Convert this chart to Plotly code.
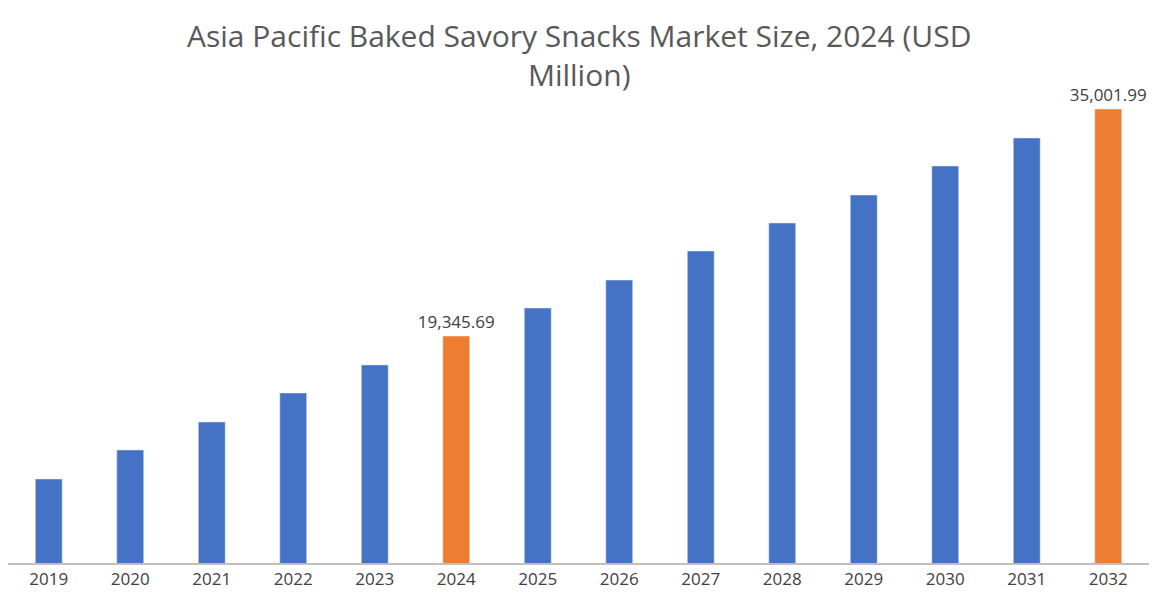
import plotly.graph_objects as go

years = ["2019", "2020", "2021", "2022", "2023", "2024", "2025",
         "2026", "2027", "2028", "2029", "2030", "2031", "2032"]
values = [9482, 11483, 13414, 15414, 17346, 19345.69, 21276,
          23207, 25208, 27139, 29070, 31070, 33001, 35001.99]
labels = ["", "", "", "", "", "19,345.69", "", "", "", "", "", "", "", "35,001.99"]

blue = "#4472C4"
orange = "#ED7D31"
colors = [orange if y in ("2024", "2032") else blue for y in years]

fig = go.Figure(go.Bar(
    x=years, y=values, marker_color=colors, width=0.33,
    text=labels, textposition="outside", cliponaxis=False,
    textfont=dict(size=17, color="#404040"),
))

fig.update_layout(
    width=1161, height=600,
    paper_bgcolor="white", plot_bgcolor="white",
    margin=dict(l=0, r=20, t=60, b=45),
    font=dict(family="Open Sans, Liberation Sans, sans-serif"),
    uniformtext=dict(minsize=17, mode="show"),
    showlegend=False,
)
fig.add_annotation(
    text="Asia Pacific Baked Savory Snacks Market Size, 2024 (USD<br>Million)",
    xref="paper", yref="paper", x=0.5, y=1, yshift=55, xanchor="center", yanchor="top",
    showarrow=False, font=dict(size=30, color="#595959"),
)
fig.update_xaxes(showline=True, linecolor="#BFBFBF", linewidth=1.5,
                 tickfont=dict(size=17, color="#404040"), ticks="")
fig.update_yaxes(visible=False, range=[3689, 37830], showgrid=False)

fig.write_html("out.html")
